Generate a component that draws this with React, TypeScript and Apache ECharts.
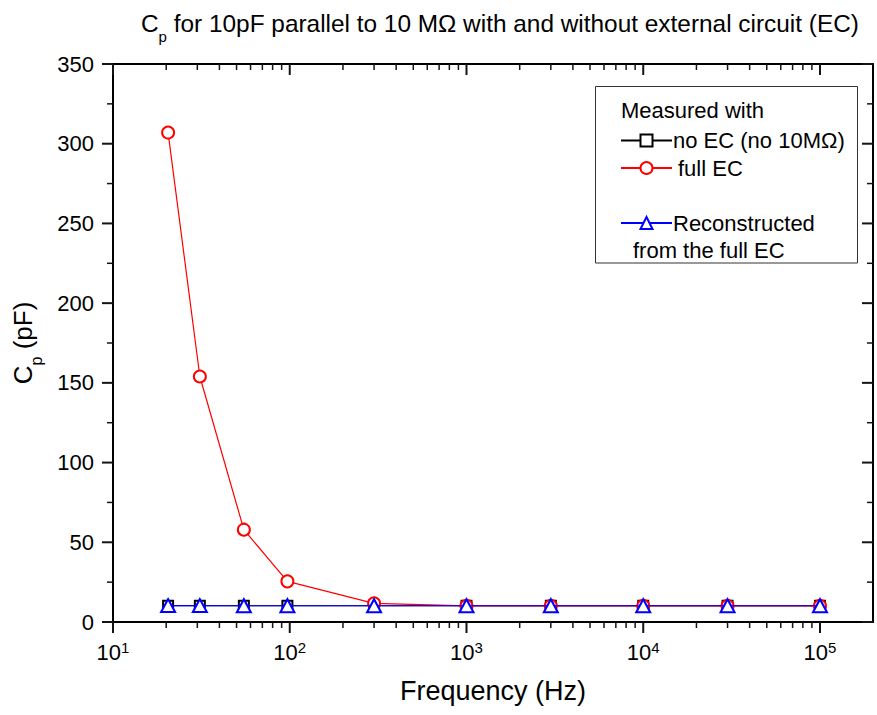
import React, { useEffect, useRef } from 'react';
import * as echarts from 'echarts';

// ---- data ----
const frequencies = [20.5, 31, 55, 97, 300, 1000, 3000, 10000, 30000, 100000];
const cpNoEC = [10.2, 10.2, 10.2, 10.2, 10.2, 10.2, 10.2, 10.2, 10.2, 10.2];
const cpFullEC = [307, 154, 57.9, 25.5, 11.7, 10.1, 10.1, 10.1, 10.1, 10.1];
const cpReconstructed = [10.3, 10.3, 10.2, 10.2, 10.2, 10.2, 10.2, 10.2, 10.2, 10.2];

const seriesNames = ['no EC (no 10MΩ)', 'full EC', 'Reconstructed from the full EC'];

// ---- axis ticks ----
const xMajorTicks = [10, 100, 1000, 10000, 100000];
const xMinorTicks = [
  20, 30, 40, 50, 60, 70, 80, 90,
  200, 300, 400, 500, 600, 700, 800, 900,
  2000, 3000, 4000, 5000, 6000, 7000, 8000, 9000,
  20000, 30000, 40000, 50000, 60000, 70000, 80000, 90000,
];
const yMajorTicks = [0, 50, 100, 150, 200, 250, 300, 350];
const yMinorTicks = [25, 75, 125, 175, 225, 275, 325];
const yMin = 0;
const yMax = 350;
const yStep = 50;
const xMin = 10;
const xMax = 199526;

const FONT = '"Liberation Sans", Arial, Helvetica, sans-serif';
const GRID = { left: 113, top: 64, right: 4, bottom: 93 };
const TICK_COLOR = '#141414';

const MAJOR_LEN = 11;
const MINOR_LEN = 6;
const MAJOR_W = 2;
const MINOR_W = 1.5;

function pairs(ys: number[]) {
  return frequencies.map((f, i) => [f, ys[i]]);
}

function logAxis(extra: any) {
  return {
    type: 'log',
    logBase: 10,
    min: xMin,
    max: xMax,
    gridIndex: 0,
    splitLine: { show: false },
    minorTick: { show: false },
    minorSplitLine: { show: false },
    axisTick: { show: false },
    axisLine: { show: true, onZero: false, lineStyle: { color: '#000', width: 2 } },
    axisLabel: { show: false },
    ...extra,
  };
}

function mainOption(): any {
  const legendCommon = {
    orient: 'vertical',
    padding: 0,
    itemWidth: 51,
    itemHeight: 15,
    selectedMode: false,
    textStyle: { fontSize: 22, fontFamily: FONT, color: '#000', lineHeight: 15 },
  };
  return {
    animation: false,
    title: {
      text: '{c|C}{s|p}{c| for 10pF parallel to 10 MΩ with and without external circuit (EC)}',
      left: 141,
      top: 3,
      padding: 0,
      textStyle: {
        fontWeight: 'normal',
        fontFamily: FONT,
        rich: {
          c: { fontSize: 24.4, lineHeight: 41, fontFamily: FONT, color: '#000', fontWeight: 'normal' },
          s: { fontSize: 15, lineHeight: 15, verticalAlign: 'bottom', fontFamily: FONT, color: '#000', fontWeight: 'normal' },
        },
      },
    },
    grid: { ...GRID },
    xAxis: [
      logAxis({
        position: 'bottom',
        axisLabel: {
          show: true,
          customValues: xMajorTicks,
          margin: 18,
          formatter: (v: number) => `{b|10}{p|${Math.round(Math.log10(v))}}`,
          rich: {
            b: { fontSize: 22, lineHeight: 25, fontFamily: FONT, color: '#000' },
            p: { fontSize: 15, lineHeight: 15, verticalAlign: 'top', fontFamily: FONT, color: '#000' },
          },
        },
        name: 'Frequency (Hz)',
        nameLocation: 'middle',
        nameGap: 55,
        nameTextStyle: { fontSize: 27, lineHeight: 27, fontFamily: FONT, color: '#000' },
      }),
      logAxis({ position: 'top' }),
    ],
    yAxis: [
      {
        type: 'value',
        position: 'left',
        min: yMin,
        max: yMax,
        interval: yStep,
        splitLine: { show: false },
        axisLine: { show: true, onZero: false, lineStyle: { color: '#000', width: 2 } },
        axisTick: { show: false },
        minorTick: { show: false },
        minorSplitLine: { show: false },
        axisLabel: { fontSize: 22, margin: 19, fontFamily: FONT, color: '#000' },
        name: '{c|C}{s|p}{c| (pF)}',
        nameLocation: 'middle',
        nameRotate: 90,
        nameGap: 69,
        nameTextStyle: {
          fontFamily: FONT,
          rich: {
            c: { fontSize: 26, lineHeight: 42, fontFamily: FONT, color: '#000' },
            s: { fontSize: 16, lineHeight: 2, verticalAlign: 'bottom', fontFamily: FONT, color: '#000' },
          },
        },
      },
      {
        type: 'value',
        position: 'right',
        min: yMin,
        max: yMax,
        interval: yStep,
        splitLine: { show: false },
        axisLine: { show: true, onZero: false, lineStyle: { color: '#000', width: 2 } },
        axisTick: { show: false },
        minorTick: { show: false },
        minorSplitLine: { show: false },
        axisLabel: { show: false },
      },
    ],
    legend: [
      { ...legendCommon, data: [seriesNames[0]], left: 620, top: 129.5, textStyle: { ...legendCommon.textStyle, padding: [0, 0, 0, -4] } },
      { ...legendCommon, data: [seriesNames[1]], left: 620, top: 157, textStyle: { ...legendCommon.textStyle, padding: [0, 0, 0, 1] } },
      {
        ...legendCommon,
        data: [seriesNames[2]],
        left: 620,
        top: 212,
        formatter: () => 'Reconstructed',
        textStyle: { ...legendCommon.textStyle, padding: [0, 0, 0, -4] },
      },
    ],
    graphic: [
      {
        type: 'rect',
        shape: { x: 595.5, y: 86.5, width: 262, height: 176.5 },
        style: { fill: 'none', stroke: '#333', lineWidth: 1 },
      },
      {
        type: 'text',
        x: 621,
        y: 110,
        style: { text: 'Measured with', fontSize: 22, fontFamily: FONT, fill: '#000', verticalAlign: 'middle' },
      },
      {
        type: 'text',
        x: 633,
        y: 250.5,
        style: { text: 'from the full EC', fontSize: 22, fontFamily: FONT, fill: '#000', verticalAlign: 'middle' },
      },
    ],
    series: [
      {
        name: seriesNames[0],
        type: 'line',
        data: pairs(cpNoEC),
        symbol: 'emptyRect',
        symbolSize: 10,
        lineStyle: { color: '#000', width: 1 },
        itemStyle: { color: '#000', borderWidth: 1.2 },
        z: 2,
      },
      {
        name: seriesNames[1],
        type: 'line',
        data: pairs(cpFullEC),
        symbol: 'emptyCircle',
        symbolSize: 12,
        lineStyle: { color: '#ff0000', width: 1.2 },
        itemStyle: { color: '#ff0000', borderWidth: 1.2 },
        z: 3,
      },
      {
        name: seriesNames[2],
        type: 'line',
        data: pairs(cpReconstructed),
        symbol: 'emptyTriangle',
        symbolSize: [14, 13],
        lineStyle: { color: '#0000ff', width: 1.2 },
        itemStyle: { color: '#0000ff', borderWidth: 1.4 },
        z: 4,
      },
    ],
  };
}

// Tick marks on all four sides, positioned by the same log / value scales.
function tickOption(): any {
  const data = [
    ...xMajorTicks.map((v) => [v, yMin, 1, 0]),
    ...xMinorTicks.map((v) => [v, yMin, 0, 0]),
    ...yMajorTicks.map((v) => [xMin, v, 1, 1]),
    ...yMinorTicks.map((v) => [xMin, v, 0, 1]),
  ];
  return {
    animation: false,
    grid: { ...GRID },
    xAxis: { type: 'log', logBase: 10, min: xMin, max: xMax, show: false },
    yAxis: { type: 'value', min: yMin, max: yMax, interval: yStep, show: false },
    series: [
      {
        type: 'custom',
        clip: false,
        silent: true,
        data,
        renderItem: (params: any, api: any) => {
          const major = api.value(2) === 1;
          const isY = api.value(3) === 1;
          const len = major ? MAJOR_LEN : MINOR_LEN;
          const w = major ? MAJOR_W : MINOR_W;
          const lb = api.coord([xMin, yMin]);
          const rt = api.coord([xMax, yMax]);
          const p = api.coord([api.value(0), api.value(1)]);
          const style = { fill: TICK_COLOR };
          if (isY) {
            return {
              type: 'group',
              children: [
                { type: 'rect', shape: { x: lb[0] - len, y: p[1] - w / 2, width: len, height: w }, style },
                { type: 'rect', shape: { x: rt[0] - len, y: p[1] - w / 2, width: len, height: w }, style },
              ],
            };
          }
          return {
            type: 'group',
            children: [
              { type: 'rect', shape: { x: p[0] - w / 2, y: lb[1], width: w, height: len }, style },
              { type: 'rect', shape: { x: p[0] - w / 2, y: rt[1], width: w, height: len }, style },
            ],
          };
        },
      },
    ],
  };
}

export default function App() {
  const mainRef = useRef<HTMLDivElement>(null);
  const tickRef = useRef<HTMLDivElement>(null);

  useEffect(() => {
    document.body.style.margin = '0';
    const chart = echarts.init(mainRef.current as HTMLDivElement, undefined, { renderer: 'svg' });
    chart.setOption(mainOption());
    const ticks = echarts.init(tickRef.current as HTMLDivElement, undefined, { renderer: 'svg' });
    ticks.setOption(tickOption());
    return () => {
      ticks.dispose();
      chart.dispose();
    };
  }, []);

  return (
    <div style={{ position: 'relative', width: 877, height: 715, background: '#fff' }}>
      <div ref={mainRef} style={{ position: 'absolute', left: 0, top: 0, width: 877, height: 715 }} />
      <div ref={tickRef} style={{ position: 'absolute', left: 0, top: 0, width: 877, height: 715, pointerEvents: 'none' }} />
    </div>
  );
}
